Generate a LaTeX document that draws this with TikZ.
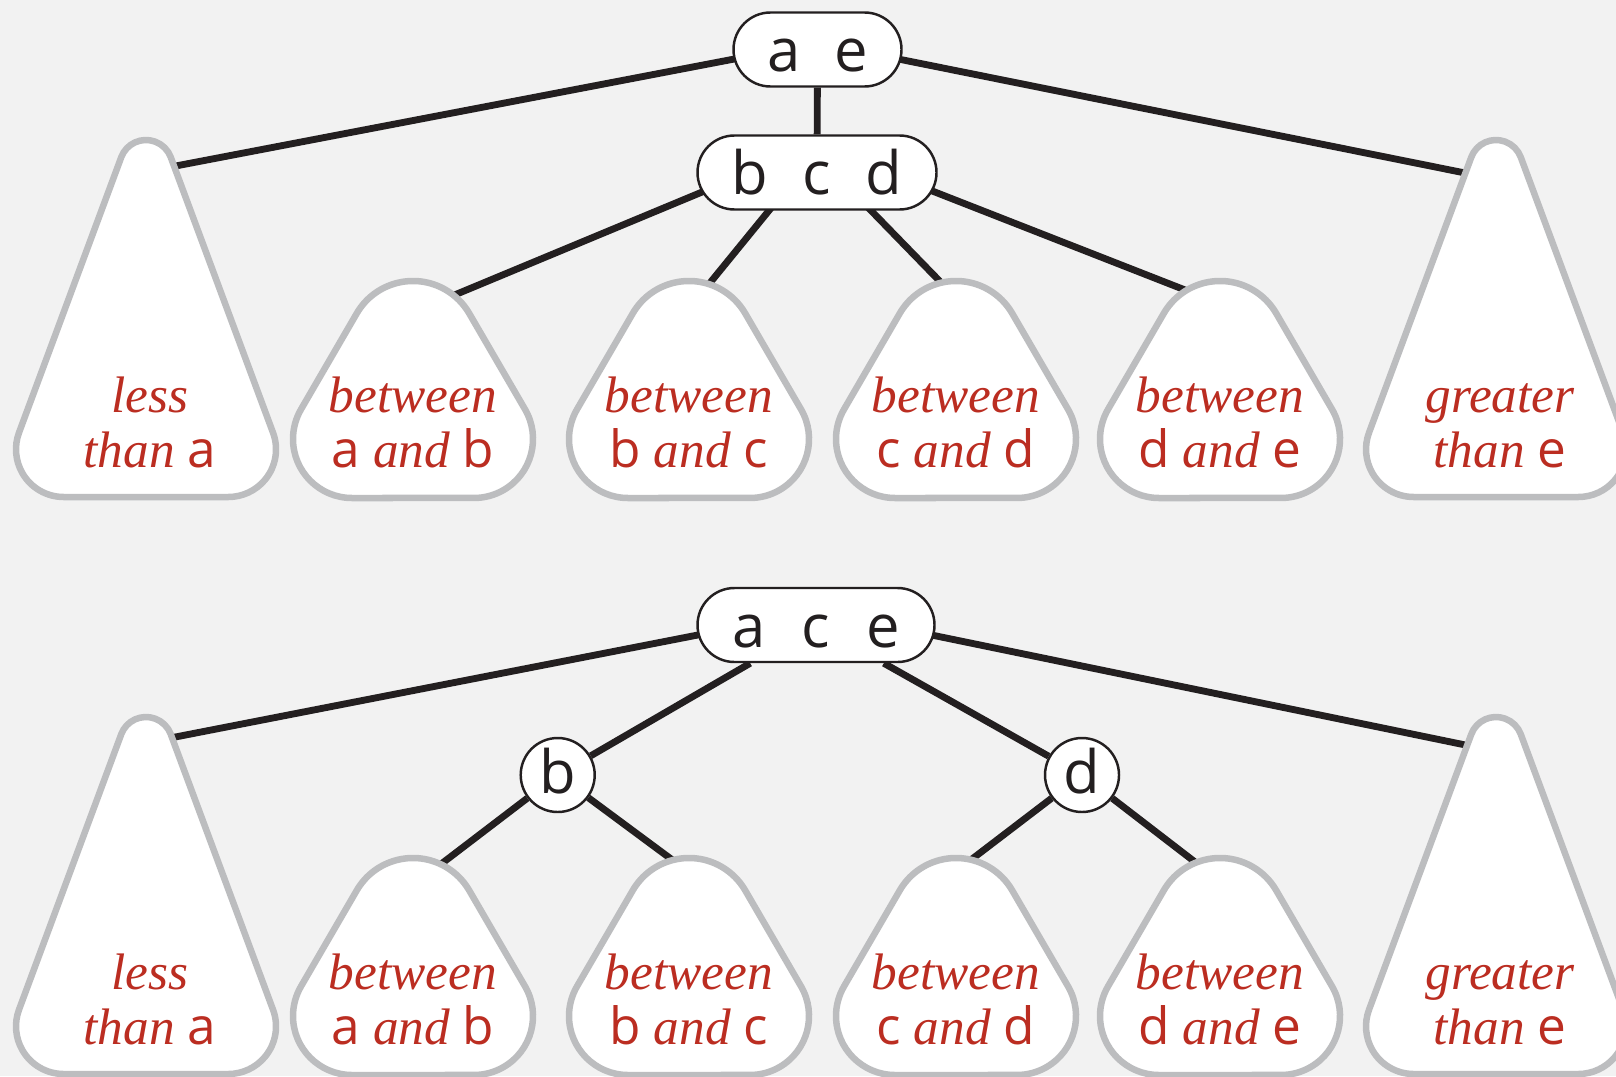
\documentclass[tikz,border=0pt]{standalone}
\usepackage{fontspec}
\setsansfont{Open Sans}
\newfontfamily\rangefont{Liberation Serif}
\usetikzlibrary{shapes}
\pgfdeclarelayer{back}
\pgfsetlayers{back,main}
\definecolor{paper}{HTML}{F2F2F2}
\definecolor{rim}{HTML}{BCBDBF}
\definecolor{ink}{HTML}{231F20}
\definecolor{labelred}{RGB}{187,45,33}
\newcommand{\kbox}[1]{\makebox[6.7mm]{#1}}
\newcommand{\ltr}[1]{\textup{\textsf{#1}}}

\begin{document}
\begin{tikzpicture}[x=0.1mm,y=-0.1mm,line join=round]
  \tikzstyle{knode}=[draw=ink,fill=white,line width=0.7pt,rectangle,
                     rounded corners=3.7mm,minimum height=7.4mm,inner sep=0pt,
                     text height=4.4mm,text depth=0pt,text=ink,
                     font=\fontsize{17}{20}\selectfont\sffamily]
  \tikzstyle{cnode}=[knode,circle,minimum size=7.4mm,text height=3.6mm]
  \tikzstyle{link}=[draw=ink,line width=1.95pt]
  \tikzstyle{subtree}=[draw=rim,fill=white,line width=1.85pt]
  \tikzstyle{keyrange}=[text=labelred,align=center,anchor=base,
                        font=\fontsize{14.6}{15.65}\selectfont\rangefont\itshape]

  \useasboundingbox (0,0) rectangle (1616,1076);
  \clip (0,0) rectangle (1616,1076);

  % key nodes
  \node[knode,minimum width=16.8mm] (ae)  at (817.5,49.5) {\kbox{a}\kbox{e}};
  \node[knode,minimum width=23.9mm] (bcd) at (817,172.5)  {\kbox{b}\kbox{c}\kbox{d}};
  \node[knode,minimum width=23.7mm] (ace) at (816,625)    {\kbox{a}\kbox{c}\kbox{e}};
  \node[cnode]                      (b)   at (557.7,775)  {b};
  \node[cnode]                      (d)   at (1082,775)   {d};

  % tall subtrees
  \foreach \cx/\ty/\hx/\hy/\name/\txt in {
      146/140/160/169/T1/{less\\than \ltr{a}},
      1496/140/1480/176/T6/{greater\\than \ltr{e}},
      146/717/160/740/U1/{less\\than \ltr{a}},
      1496/717/1480/748/U6/{greater\\than \ltr{e}}}
  {
    \draw[subtree,shift={(\cx,\ty)}] (-82.3,357)
        arc[start angle=90,end angle=200.37,radius=47.7] -- (-24.75,17.21)
        arc[start angle=200.37,end angle=339.63,radius=26.4] -- (127.02,292.7)
        arc[start angle=-20.37,end angle=90,radius=47.7] -- cycle;
    \coordinate (\name) at (\hx,\hy);
    \node[keyrange] (\name-txt) at (\cx+4,\ty+327) {\txt};
  }

  % short subtrees
  \foreach \cx/\ty/\hx/\hy/\name/\txt in {
      413/281/428/306/t1/{between\\\ltr{a} and \ltr{b}},
      689/281/696/300/t2/{between\\\ltr{b} and \ltr{c}},
      956/281/958/300/t3/{between\\\ltr{c} and \ltr{d}},
      1220/281/1203/297/t4/{between\\\ltr{d} and \ltr{e}},
      413/858/428/874/u1/{between\\\ltr{a} and \ltr{b}},
      689/858/690/873/u2/{between\\\ltr{b} and \ltr{c}},
      956/858/955/872/u3/{between\\\ltr{c} and \ltr{d}},
      1220/858/1208/872/u4/{between\\\ltr{d} and \ltr{e}}}
  {
    \draw[subtree,shift={(\cx,\ty)}] (-61,217)
        arc[start angle=90,end angle=210.2,radius=59] -- (-56.2,32.3)
        arc[start angle=210.2,end angle=329.8,radius=65] -- (112,128.3)
        arc[start angle=-30.2,end angle=90,radius=59] -- cycle;
    \coordinate (\name) at (\hx,\hy);
    \node[keyrange] (\name-txt) at (\cx,\ty+186) {\txt};
  }

  % links
  \begin{pgfonlayer}{back}
    \fill[paper] (0,0) rectangle (1616,1076);
    \path[link] ([xshift=-3.35mm]ae.center) edge (T1)
                ([xshift=3.35mm]ae.center)  edge (T6)
                (ae) edge (bcd)
                ([xshift=-6.8mm]bcd.center) edge (t1)
                ([xshift=-1.7mm]bcd.center) edge (t2)
                ([xshift=1.7mm]bcd.center)  edge (t3)
                ([xshift=6.8mm]bcd.center)  edge (t4)
                ([xshift=-6.7mm]ace.center) edge (U1)
                ([xshift=6.7mm]ace.center)  edge (U6)
                (ace) edge (b)
                (ace) edge (d)
                (b) edge (u1)
                (b) edge (u2)
                (d) edge (u3)
                (d) edge (u4);
  \end{pgfonlayer}
\end{tikzpicture}
\end{document}
